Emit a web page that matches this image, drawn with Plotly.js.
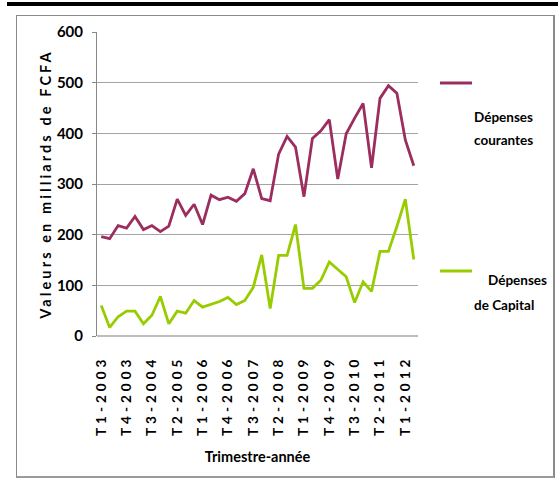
<!DOCTYPE html>
<html>
<head>
<meta charset="utf-8">
<script src="https://cdn.plot.ly/plotly-3.0.1.min.js"></script>
<style>
html,body{margin:0;padding:0;background:#fff;}
#wrap{position:relative;width:558px;height:479px;overflow:hidden;}
#chart{position:absolute;left:0;top:0;width:558px;height:479px;}
#bar{position:absolute;left:7px;top:2px;width:551px;height:4px;background:#000;pointer-events:none;}
#frame{position:absolute;left:16px;top:15px;width:536px;height:460px;border-left:1px solid #8a8a8a;border-top:1px solid #8a8a8a;border-right:2px solid #8a8a8a;border-bottom:2px solid #9a9a9a;pointer-events:none;}
.ytitle{letter-spacing:3.1px;}
.xtick text{letter-spacing:4px;}
</style>
</head>
<body>
<div id="wrap">
<div id="chart"></div>
<div id="bar"></div>
<div id="frame"></div>
</div>
<script>
// Quarters (Trimestre-année)
const categories = [
  "T1-2003","T2-2003","T3-2003","T4-2003",
  "T1-2004","T2-2004","T3-2004","T4-2004",
  "T1-2005","T2-2005","T3-2005","T4-2005",
  "T1-2006","T2-2006","T3-2006","T4-2006",
  "T1-2007","T2-2007","T3-2007","T4-2007",
  "T1-2008","T2-2008","T3-2008","T4-2008",
  "T1-2009","T2-2009","T3-2009","T4-2009",
  "T1-2010","T2-2010","T3-2010","T4-2010",
  "T1-2011","T2-2011","T3-2011","T4-2011",
  "T1-2012","T2-2012"
];
// Dépenses courantes (milliards FCFA)
const depensesCourantes = [
  196,192,218,213,236,210,218,206,217,270,238,260,220,278,269,274,266,281,330,
  271,267,359,394,373,275,390,405,427,310,399,430,459,332,469,494,479,387,336
];
// Dépenses de Capital (milliards FCFA)
const depensesCapital = [
  60,17,38,49,49,24,41,78,24,49,45,70,57,62,68,76,62,70,96,
  160,54,159,159,220,94,94,110,146,132,117,66,107,88,167,167,216,270,151
];
// Tick labels shown on the x axis
const xTickLabels = [
  "T1-2003","T4-2003","T3-2004","T2-2005","T1-2006","T4-2006","T3-2007",
  "T2-2008","T1-2009","T4-2009","T3-2010","T2-2011","T1-2012"
];
const yTicks = [0,100,200,300,400,500,600];

const seriesNames = ["Dépenses courantes", "Dépenses de Capital"];
const colors = ["#9b2d5f", "#99cc00"];

const FONT = "Lato, 'Liberation Sans', Arial, sans-serif";

const traces = [
  {x: categories, y: depensesCourantes, type: "scatter", mode: "lines",
   name: seriesNames[0], line: {color: colors[0], width: 2.8}},
  {x: categories, y: depensesCapital, type: "scatter", mode: "lines",
   name: seriesNames[1], line: {color: colors[1], width: 2.8}}
];

// plot area in px: x 97..418, y 32..336
const L = 97, R = 418, T = 32, B = 336;
const W = 558, H = 479;
const px = v => (v - L) / (R - L);
const py = v => (B - v) / (B - T);

const legendFont = {family: FONT, size: 13.5, color: "#000", weight: "bold"};

const layout = {
  width: W, height: H,
  margin: {l: L, r: W - R, t: T, b: H - B, pad: 0},
  paper_bgcolor: "#fff", plot_bgcolor: "#fff",
  showlegend: false,
  font: {family: FONT, color: "#000"},
  xaxis: {
    type: "category",
    range: [-0.5, categories.length - 0.5],
    tickmode: "array", tickvals: xTickLabels, ticktext: xTickLabels,
    tickangle: -90,
    ticks: "", showgrid: false, showline: false, zeroline: false,
    ticklabelstandoff: 16,
    tickfont: {family: FONT, size: 13.5, color: "#000", weight: "bold"},
    title: {text: "Trimestre-année", standoff: 16,
            font: {family: FONT, size: 14.5, color: "#000", weight: "bold"}}
  },
  yaxis: {
    range: [0, 600], tickmode: "array", tickvals: yTicks,
    ticks: "outside", ticklen: 4, tickcolor: "#888", tickwidth: 1,
    showline: true, linecolor: "#888", linewidth: 1,
    showgrid: true, gridcolor: "#a3a3a3", gridwidth: 1,
    zeroline: true, zerolinecolor: "#bdbdbd", zerolinewidth: 2,
    ticklabelstandoff: 6,
    tickfont: {family: FONT, size: 15, color: "#000", weight: "bold"},
    title: {text: "Valeurs en milliards de FCFA", standoff: 1,
            font: {family: FONT, size: 14.5, color: "#000", weight: "bold"}}
  },
  shapes: [
    {type: "line", xref: "paper", yref: "paper", x0: px(440), x1: px(472), y0: py(83), y1: py(83),
     line: {color: colors[0], width: 3}},
    {type: "line", xref: "paper", yref: "paper", x0: px(440), x1: px(472), y0: py(271), y1: py(271),
     line: {color: colors[1], width: 3}}
  ],
  annotations: [
    {xref: "paper", yref: "paper", x: px(472), y: py(117), xanchor: "left", yanchor: "middle",
     text: "Dépenses", showarrow: false, font: legendFont},
    {xref: "paper", yref: "paper", x: px(472), y: py(140), xanchor: "left", yanchor: "middle",
     text: "courantes", showarrow: false, font: legendFont},
    {xref: "paper", yref: "paper", x: px(486), y: py(280), xanchor: "left", yanchor: "middle",
     text: "Dépenses", showarrow: false, font: legendFont},
    {xref: "paper", yref: "paper", x: px(472), y: py(305), xanchor: "left", yanchor: "middle",
     text: "de Capital", showarrow: false, font: legendFont}
  ]
};

Plotly.newPlot("chart", traces, layout, {displayModeBar: false, staticPlot: true});
</script>
</body>
</html>
